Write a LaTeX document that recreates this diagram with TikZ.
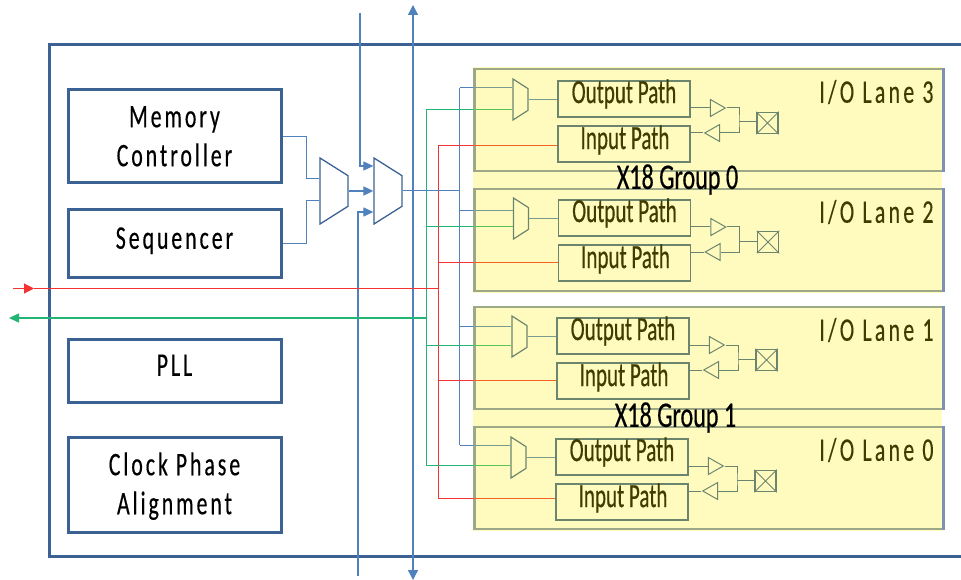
\documentclass[tikz,border=0pt]{standalone}
\usepackage{fontspec}
\usepackage{xcolor}
\usetikzlibrary{arrows.meta,shapes.geometric}
\newfontfamily\boxfont[FakeStretch=0.66,LetterSpace=9,FakeBold=0.4]{Carlito}
\newfontfamily\lanefont[FakeStretch=0.66,LetterSpace=10,FakeBold=0.3]{Carlito}
\newfontfamily\pathfont[FakeStretch=0.62,FakeBold=0.4]{Carlito}
\newfontfamily\groupfont[FakeStretch=0.67,FakeBold=0.4]{Carlito}
\definecolor{framblue}{RGB}{60,98,148}
\definecolor{wireblue}{RGB}{79,129,189}
\definecolor{wirered}{RGB}{245,50,50}
\definecolor{wiregreen}{RGB}{34,181,115}
\definecolor{laneedge}{RGB}{125,145,182}
\definecolor{laneyellow}{RGB}{255,240,0}
\tikzset{
  ctrlbox/.style={draw=framblue, line width=3pt, minimum width=213pt, font=\boxfont\fontsize{33}{39}\selectfont, align=center},
  lanebox/.style={draw=laneedge, line width=2.6pt, minimum width=469pt, minimum height=102pt},
  groupshade/.style={fill=laneyellow, fill opacity=0.25, minimum width=468.5pt, minimum height=225pt},
  grouplabel/.style={font=\groupfont\fontsize{36}{37}\selectfont},
  lanelabel/.style={font=\lanefont\fontsize{33}{34}\selectfont, anchor=east},
  pathbox/.style={draw=framblue, line width=1.5pt, minimum width=132pt, minimum height=36pt},
  pathlabel/.style={font=\pathfont\fontsize{34}{35}\selectfont},
  bigmux/.style={draw=framblue, line width=1.3pt, trapezium, shape border rotate=270, trapezium stretches=true,
    trapezium angle=60, inner sep=1pt, minimum width=66pt, minimum height=28pt},
  lanemux/.style={draw=framblue, line width=1.2pt, trapezium, shape border rotate=270, trapezium stretches=true,
    trapezium angle=66, inner sep=1pt, minimum width=41pt, minimum height=15pt},
  buffer/.style={draw=framblue, line width=1pt, isosceles triangle, isosceles triangle stretches=true,
    inner sep=1pt, minimum width=17pt, minimum height=15pt},
  padbox/.style={draw=framblue, line width=1.5pt, minimum size=21pt, inner sep=0pt},
  padcross/.style={draw=framblue, line width=0.8pt},
  bluewire/.style={draw=wireblue, line width=1pt},
  redwire/.style={draw=wirered, line width=1pt},
  greenwire/.style={draw=wiregreen, line width=1pt},
  tip/.style={-{Triangle[length=10pt,width=9pt]}}
}
\begin{document}
\begin{tikzpicture}[x=1pt,y=-1pt]
\useasboundingbox (0,0) rectangle (961,580);
% Outer frame, open to the right
\draw[framblue, line width=3pt] (962,45) -- (49.5,45) -- (49.5,556) -- (962,556);

% Control blocks
\node[ctrlbox, minimum height=93pt] (memory) at (174.5,136.5) {\raisebox{-2pt}[0.7em][0.2em]{Memory}\\\raisebox{-2pt}[0.7em][0.2em]{Controller}};
\node[ctrlbox, minimum height=67pt] (sequencer) at (174.5,243.5) {\raisebox{3pt}[0.7em][0.2em]{Sequencer}};
\node[ctrlbox, minimum height=63pt] (pll) at (174.5,370.5) {\raisebox{3pt}[0.7em][0.2em]{PLL}};
\node[ctrlbox, minimum height=95pt] (clock) at (174.5,484.5) {\raisebox{-2pt}[0.7em][0.2em]{Clock Phase}\\\raisebox{-2pt}[0.7em][0.2em]{Alignment}};

% Muxes
\node[bigmux] (muxa) at (334,191) {};
\node[bigmux] (muxb) at (388,191) {};
\draw[bluewire] (memory.east) -| (306,179) -- (muxa.west |- 0,179);
\draw[bluewire] (sequencer.east) -| (306,201) -- (muxa.west |- 0,201);
\draw[bluewire, line width=1.5pt, tip] (muxa.east) -- (muxb.west |- muxa.east);

% Free wires and bus
\coordinate (cfgtop) at (360,13);
\coordinate (cfgbot) at (358,576);
\coordinate (bustop) at (413,5);
\coordinate (busbot) at (413,580);
\draw[bluewire, line width=1.2pt, tip] (cfgtop) |- (muxb.west |- 0,166);
\draw[bluewire, line width=1.2pt, tip] (cfgbot) |- (muxb.west |- 0,212);
\draw[wireblue, line width=1.3pt, {Triangle[length=10pt,width=10pt]}-{Triangle[length=10pt,width=10pt]}] (bustop) -- (busbot);

% Lane spines
\coordinate (bluetop) at (459.5,88);
\coordinate (blueend) at (459.5,445);
\coordinate (greentop) at (426,110);
\coordinate (greenend) at (426,465);
\coordinate (redtop) at (438,146);
\coordinate (redend) at (438,498);
\coordinate (redin) at (13,288.5);
\coordinate (greenout) at (9,318);
\draw[bluewire] (bluetop) -- (blueend);
\draw[greenwire] (greentop) -- (greenend);
\draw[redwire] (redtop) -- (redend);
\draw[bluewire] (muxb.east) -- (muxb.east -| bluetop);
\draw[redwire, line width=1.2pt, -{Triangle[length=10pt,width=10pt]}] (redin) -- (34,288.5);
\draw[redwire, line width=1.2pt] (34,288.5) -- (redin -| redtop);
\draw[greenwire, line width=1.5pt, tip] (greentop |- greenout) -- (greenout);

% Draw the four lanes
\foreach \n/\dx/\dy/\ya/\yb/\yc/\ytop in {3/0/0/88/110/146/69, 2/0.5/119/211/227/262/189, 1/-1/237/326/345/380/307, 0/-2/358/445/465/498/427} {
    \node[lanebox] (lane\n) at (709.25,\ytop+51) {};
    \node[lanelabel] (lanetext\n) at (937,\ytop+23) {I/O Lane \n};
    \node[lanemux] (lanemux\n) at (520.5+\dx,99.5+\dy) {};
    \node[pathbox] (out\n) at (624+\dx,99+\dy) {};
    \node[pathbox] (in\n) at (624+\dx,144+\dy) {};
    \node[pathlabel] (outtext\n) at (624+\dx,94+\dy) {Output Path};
    \node[pathlabel] (intext\n) at (625+\dx,140+\dy) {Input Path};
    \node[buffer] (outbuf\n) at (715+\dx,108+\dy) {};
    \node[buffer, shape border rotate=180] (inbuf\n) at (715+\dx,133+\dy) {};
    \node[padbox] (pad\n) at (767.5+\dx,123+\dy) {};
    \draw[padcross] (pad\n.north west) -- (pad\n.south east) (pad\n.north east) -- (pad\n.south west);
    \coordinate (join\n) at (739+\dx,122+\dy);
    \draw[bluewire] (459.5,\ya) -- (lanemux\n.west |- 0,\ya);
    \draw[greenwire] (426,\yb) -- (lanemux\n.west |- 0,\yb);
    \draw[redwire] (438,\yc) -- (in\n.west |- 0,\yc);
    \draw[bluewire] (lanemux\n.east) -- (out\n.west |- lanemux\n.east);
    \draw[bluewire, draw=framblue] (out\n.east |- outbuf\n.lower side) -- (outbuf\n.lower side);
    \draw[bluewire, draw=framblue] (in\n.east |- inbuf\n.apex) -- (inbuf\n.apex);
    \draw[bluewire, draw=framblue] (outbuf\n.apex) -| (join\n) |- (inbuf\n.lower side);
    \draw[bluewire, draw=framblue] (join\n) -- (join\n -| pad\n.west);
}

% Yellow wash over the groups
\node[groupshade] (group0) at (707.25,180) {};
\node[groupshade] (group1) at (707.25,418) {};
\node[grouplabel] (grouptext0) at (677.5,179.5) {X18 Group 0};
\node[grouplabel] (grouptext1) at (675.5,417.5) {X18 Group 1};
\end{tikzpicture}
\end{document}
